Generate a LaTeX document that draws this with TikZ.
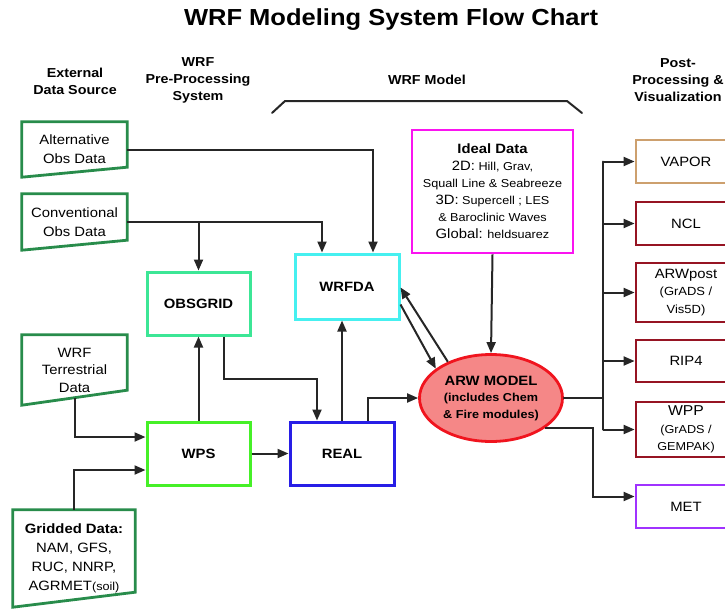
\documentclass[tikz,border=0pt]{standalone}
\usepackage{fontspec}
\setmainfont{Liberation Sans}[FakeStretch=1.1]
\usetikzlibrary{shapes.geometric,arrows.meta}
\newcommand{\fsz}[2]{\fontsize{#1}{#2}\selectfont}
\definecolor{srcgreen}{RGB}{40,140,75}
\definecolor{wpsgreen}{RGB}{70,240,40}
\definecolor{obsgreen}{RGB}{60,230,150}
\definecolor{dacyan}{RGB}{70,240,240}
\definecolor{realblue}{RGB}{40,30,230}
\definecolor{idealpink}{RGB}{250,20,240}
\definecolor{arwred}{RGB}{240,20,30}
\definecolor{arwfill}{RGB}{245,135,135}
\definecolor{vaportan}{RGB}{205,160,110}
\definecolor{postred}{RGB}{150,20,35}
\definecolor{metpurple}{RGB}{160,50,255}
\tikzset{
  flow/.style={-{Triangle[length=11pt,width=9pt]}, line width=2pt, draw=black!85},
  link/.style={line width=2pt, draw=black!85, line cap=round},
  srcedge/.style={line width=2.8pt, draw=srcgreen},
  srcbox/.style={minimum width=105pt, align=center, inner sep=0pt, font=\fsz{13.5}{19}},
  procbox/.style={draw, line width=3pt, minimum width=103pt, minimum height=63pt, font=\bfseries\fsz{13.5}{15}},
  postbox/.style={draw=postred, line width=2.8pt, minimum width=100pt, align=center, inner sep=0pt, font=\fsz{13.5}{17.5}},
  head/.style={align=center, font=\bfseries\fsz{13}{17}}
}
\begin{document}
\begin{tikzpicture}[x=1pt,y=-1pt]
\useasboundingbox (0,0) rectangle (725,608);

\node[font=\bfseries\fsz{23.2}{28}] (title) at (391,20) {WRF Modeling System Flow Chart};
\node[head] (hsrc) at (75,81) {External\\Data Source};
\node[head] (hwps) at (198,80) {WRF\\Pre-Processing\\System};
\node[head] (hmodel) at (427,80) {WRF Model};
\node[head] (hpost) at (678,80) {Post-\\Processing \&\\Visualization};
\draw[link] (272,113) -- (285,101) -- (567,101) -- (582,113);

\node[srcbox, minimum height=55pt] (alt) at (74.5,149.5) {Alternative\\Obs Data};
\node[srcbox, minimum height=56pt] (conv) at (74.5,222) {Conventional\\Obs Data};
\node[srcbox, minimum height=70pt, font=\fsz{13.5}{17.5}] (terr) at (74.5,370) {WRF\\Terrestrial\\Data};
\node[srcbox, minimum width=122pt, minimum height=97pt] (grid) at (74,558.5)
  {{\bfseries Gridded Data:}\\NAM, GFS,\\RUC, NNRP,\\AGRMET{\fsz{11.5}{19}(soil)}};
\foreach \n/\d in {alt/10,conv/10,terr/15,grid/15}
  \draw[srcedge] (\n.north west) -- (\n.north east) -- ([yshift=\d pt]\n.south east) -- (\n.south west) -- cycle;

\node[procbox, draw=obsgreen] (obsgrid) at (198.5,303.5) {OBSGRID};
\node[procbox, draw=dacyan, minimum width=104pt, minimum height=65pt] (wrfda) at (347,286.5) {WRFDA};
\node[procbox, draw=wpsgreen] (wps) at (198.5,453.5) {WPS};
\node[procbox, draw=realblue, minimum width=104pt] (real) at (342,453.5) {REAL};

\node[draw=idealpink, line width=2.8pt, minimum width=161pt, minimum height=123pt, align=center, font=\fsz{11.5}{17}] (ideal) at (492.5,191.5)
  {{\bfseries\fsz{13.5}{17}Ideal Data}\\{\fsz{13.5}{17}2D:} Hill, Grav,\\Squall Line \& Seabreeze\\{\fsz{13.5}{17}3D:} Supercell ; LES\\\& Baroclinic Waves\\{\fsz{13.5}{17}Global:} heldsuarez};
\node[ellipse, draw=arwred, fill=arwfill, line width=2.8pt, minimum width=143pt, minimum height=87pt, inner sep=0pt, align=center, font=\bfseries\fsz{11.5}{16.5}] (arw) at (491,398)
  {{\fsz{13.5}{16.5}ARW MODEL}\\(includes Chem\\\& Fire modules)};

\node[postbox, draw=vaportan, minimum height=43pt] (vapor) at (686,161.5) {VAPOR};
\node[postbox, minimum height=43pt] (ncl) at (686,223.5) {NCL};
\node[postbox, minimum height=59pt] (arwpost) at (686,292.5) {ARWpost\\{\fsz{11.8}{17.5}(GrADS /}\\{\fsz{11.8}{17.5}Vis5D)}};
\node[postbox, minimum height=42pt] (rip4) at (686,361) {RIP4};
\node[postbox, minimum height=55pt] (wpp) at (686,429.5) {{\fsz{14.3}{17}WPP}\\{\fsz{11.5}{17}(GrADS /}\\{\fsz{11.5}{17}GEMPAK)}};
\node[postbox, draw=metpurple, minimum height=43pt] (met) at (686,506.5) {MET};

\draw[flow] (alt.east) -| ([xshift=26pt]wrfda.north);
\draw[flow] (conv.east) -| ([xshift=-25pt]wrfda.north);
\draw[flow] (obsgrid.north |- conv.east) -- (obsgrid.north);
\draw[flow] ([yshift=7.5pt]terr.south) |- ([yshift=16.5pt]wps.west);
\draw[flow] (grid.north) |- ([yshift=-16.5pt]wps.west);
\draw[flow] (wps.north) -- (obsgrid.south);
\draw[flow] (wps.east) -- (real.west);
\draw[flow] ([xshift=25.5pt]obsgrid.south) -- ++(0,42) -| ([xshift=-25pt]real.north);
\draw[flow] (real.north) -- (real.north |- wrfda.south);
\draw[flow] ([xshift=26pt]real.north) |- (arw.west);
\draw[flow] (arw.140) -- ([yshift=-1pt]wrfda.east);
\draw[flow] ([yshift=-18pt]wrfda.east) -- (arw.152);
\draw[flow] (ideal.south) -- (arw.north);

\coordinate (trunk) at (603,398);
\coordinate (metx) at (593,0);
\draw[link] (arw.east) -- (trunk);
\draw[link] (trunk |- vapor.west) -- (trunk |- wpp.west);
\foreach \b in {vapor,ncl,arwpost,rip4,wpp}
  \draw[flow] (trunk |- \b.west) -- (\b.west);
\draw[flow] (arw.-29) -- (arw.-29 -| metx) |- ([yshift=10pt]met.west);
\end{tikzpicture}
\end{document}
